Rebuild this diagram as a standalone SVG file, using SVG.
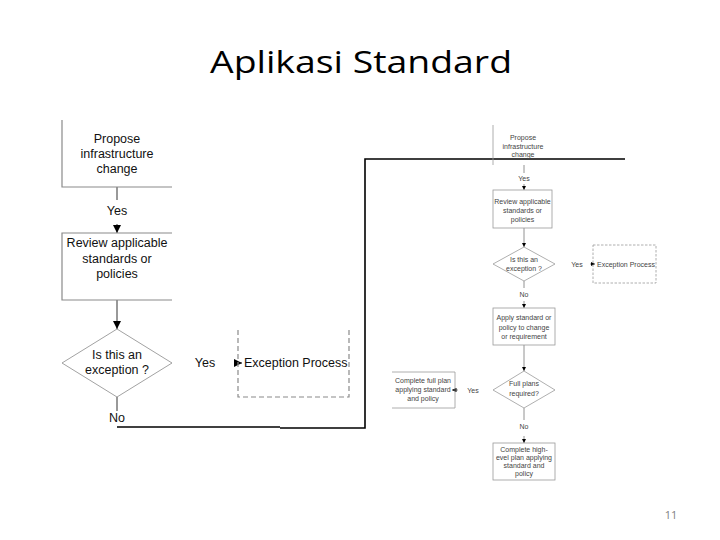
<svg xmlns="http://www.w3.org/2000/svg" width="720" height="540" viewBox="0 0 720 540">
<defs>
<style>
.title{font-family:"Open Sans","Liberation Sans",sans-serif;font-size:31px;fill:#000}
.tl{font-family:"Liberation Sans",Arial,sans-serif;font-size:12.5px;fill:#111;text-anchor:middle}
.ts{font-family:"Liberation Sans",Arial,sans-serif;font-size:7px;fill:#444;text-anchor:middle}
.bl{fill:none;stroke:#8a8a8a;stroke-width:1.2}
.bs{fill:none;stroke:#9a9a9a;stroke-width:0.8}
.dl{fill:none;stroke:#8a8a8a;stroke-width:1.2;stroke-dasharray:5 3}
.ds{fill:none;stroke:#9a9a9a;stroke-width:0.8;stroke-dasharray:2.5 1.5}
.cl{fill:none;stroke:#555;stroke-width:1.2}
.cs{fill:none;stroke:#777;stroke-width:0.8}
.bk{fill:none;stroke:#000;stroke-width:1.6}
.pn{font-family:"Open Sans","Liberation Sans",sans-serif;font-size:11px;fill:#808080;text-anchor:middle}
</style>
<marker id="arrL" viewBox="0 0 10 10" refX="10" refY="5" markerWidth="8" markerHeight="8" markerUnits="userSpaceOnUse" orient="auto"><path d="M0,0 L10,5 L0,10 z" fill="#000"/></marker>
<marker id="arrS" viewBox="0 0 10 10" refX="10" refY="5" markerWidth="4.5" markerHeight="4.5" markerUnits="userSpaceOnUse" orient="auto"><path d="M0,0 L10,5 L0,10 z" fill="#000"/></marker>
</defs>
<rect width="720" height="540" fill="#fff"/>
<text class="title" x="361" y="73" text-anchor="middle" textLength="302" lengthAdjust="spacingAndGlyphs">Aplikasi Standard</text>

<g id="connectors">
<path class="cl" d="M117 187 V200"/>
<path class="cl" d="M117 224 V233" marker-end="url(#arrL)"/>
<path class="cl" d="M117 300 V329" marker-end="url(#arrL)"/>
<path class="cl" d="M234 363 H242" marker-end="url(#arrL)"/>
<path class="cl" d="M117 397 V411"/>
<path class="bk" d="M117 427 H280"/>
<path class="bk" d="M280 428 H365 V159 H625"/>
<path class="cs" d="M524 165 V173"/>
<path class="cs" d="M524 184 V190" marker-end="url(#arrS)"/>
<path class="cs" d="M524 228 V247" marker-end="url(#arrS)"/>
<path class="cs" d="M590 264 H595" marker-end="url(#arrS)"/>
<path class="cs" d="M524 281 V288"/>
<path class="cs" d="M524 301 V308" marker-end="url(#arrS)"/>
<path class="cs" d="M524 345 V371" marker-end="url(#arrS)"/>
<path class="cs" d="M458 390 H452" marker-end="url(#arrS)"/>
<path class="cs" d="M524 408 V420"/>
<path class="cs" d="M524 436 V443" marker-end="url(#arrS)"/>
</g>

<g id="labels">
<text class="tl" x="117" y="215">Yes</text>
<text class="tl" x="205" y="367">Yes</text>
<text class="tl" x="117" y="422">No</text>
<text class="ts" x="524" y="181">Yes</text>
<text class="ts" x="577" y="267">Yes</text>
<text class="ts" x="524" y="297">No</text>
<text class="ts" x="473" y="393">Yes</text>
<text class="ts" x="524" y="429">No</text>
</g>

<g id="L-propose">
<path class="bl" d="M62 120 V187 H172"/>
<text class="tl" x="117" y="143">Propose</text>
<text class="tl" x="117" y="158">infrastructure</text>
<text class="tl" x="117" y="173">change</text>
</g>
<g id="L-review">
<path class="bl" d="M172 233 H62 V300 H172"/>
<text class="tl" x="117" y="247">Review applicable</text>
<text class="tl" x="117" y="263">standards or</text>
<text class="tl" x="117" y="278">policies</text>
</g>
<g id="L-exception-q">
<polygon class="dl" points="117,329 172,363 117,397 62,363" style="stroke-dasharray:none;stroke-width:0.8"/>
<text class="tl" x="117" y="359">Is this an</text>
<text class="tl" x="117" y="374">exception ?</text>
</g>
<g id="L-exception-process">
<path class="dl" d="M238 330 V397 H349 V330"/>
<text class="tl" x="244" y="367" style="text-anchor:start">Exception Process</text>
</g>

<g id="R-propose">
<path class="bs" d="M493 125 V165"/>
<text class="ts" x="523" y="140">Propose</text>
<text class="ts" x="523" y="149">infrastructure</text>
<text class="ts" x="523" y="157">change</text>
</g>
<g id="R-review">
<rect class="bs" x="493" y="190" width="59" height="38"/>
<text class="ts" x="522.5" y="204">Review applicable</text>
<text class="ts" x="522.5" y="213">standards or</text>
<text class="ts" x="522.5" y="222">policies</text>
</g>
<g id="R-exception-q">
<polygon class="bs" points="524,247 555,264 524,281 493,264"/>
<text class="ts" x="524" y="262">Is this an</text>
<text class="ts" x="524" y="271">exception ?</text>
</g>
<g id="R-exception-process">
<rect class="ds" x="593" y="245" width="63" height="38"/>
<text class="ts" x="597" y="267" style="text-anchor:start">Exception Process</text>
</g>
<g id="R-apply">
<rect class="bs" x="493" y="308" width="62" height="37"/>
<text class="ts" x="524" y="320">Apply standard or</text>
<text class="ts" x="524" y="330">policy to change</text>
<text class="ts" x="524" y="339">or requirement</text>
</g>
<g id="R-full-q">
<polygon class="bs" points="524,371 555,390 524,408 493,390"/>
<text class="ts" x="524" y="386">Full plans</text>
<text class="ts" x="524" y="396">required?</text>
</g>
<g id="R-full-plan">
<path class="bs" d="M392 372 H455 V408 H392"/>
<text class="ts" x="423" y="383">Complete full plan</text>
<text class="ts" x="423" y="392">applying standard</text>
<text class="ts" x="423" y="401">and policy</text>
</g>
<g id="R-high-level">
<rect class="bs" x="493" y="443" width="62" height="37"/>
<text class="ts" x="524" y="452">Complete high-</text>
<text class="ts" x="524" y="460">evel plan applying</text>
<text class="ts" x="524" y="468">standard and</text>
<text class="ts" x="524" y="476">policy</text>
</g>

<text class="pn" x="671" y="519">11</text>
</svg>
